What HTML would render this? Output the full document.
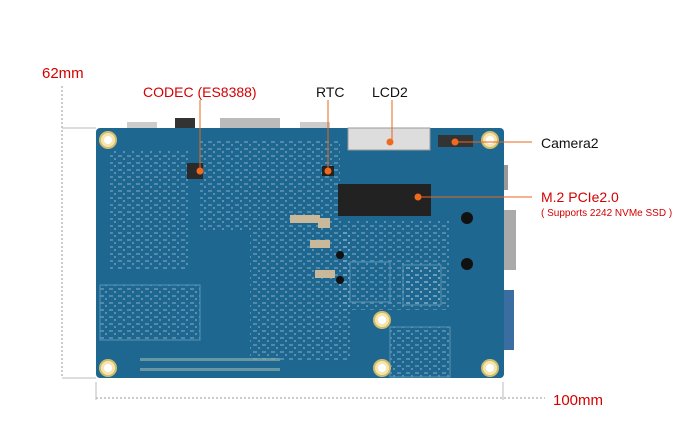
<!DOCTYPE html>
<html><head><style>
html,body{margin:0;padding:0;background:#fff;}
svg{display:block;font-family:"Liberation Sans",sans-serif;}
</style></head><body>
<svg width="692" height="448" viewBox="0 0 692 448" xmlns="http://www.w3.org/2000/svg">
<defs>
<pattern id="comp" width="9" height="7" patternUnits="userSpaceOnUse">
<rect x="1" y="1" width="4" height="2" fill="#7fa9c4" opacity="0.55"/>
<rect x="6" y="4" width="2" height="2" fill="#a0b8c8" opacity="0.5"/>
</pattern>
</defs>
<rect width="692" height="448" fill="#fff"/>
<line x1="62" y1="86" x2="62" y2="378" stroke="#999" stroke-dasharray="2,2"/>
<line x1="62" y1="128" x2="96" y2="128" stroke="#bbb"/>
<line x1="62" y1="378" x2="96" y2="378" stroke="#bbb"/>
<line x1="96" y1="398" x2="545" y2="398" stroke="#999" stroke-dasharray="2,2"/>
<line x1="96" y1="382" x2="96" y2="400" stroke="#bbb"/>
<line x1="503" y1="382" x2="503" y2="400" stroke="#bbb"/>
<text x="42" y="78" font-size="15" fill="#d40000">62mm</text>
<text x="553" y="405" font-size="15" fill="#d40000">100mm</text>
<rect x="127" y="122" width="30" height="8" fill="#ccc"/>
<rect x="175" y="118" width="20" height="12" fill="#333"/>
<rect x="220" y="118" width="60" height="10" fill="#bbb"/>
<rect x="300" y="122" width="30" height="8" fill="#ccc"/>
<rect x="500" y="165" width="8" height="25" fill="#999"/>
<rect x="502" y="210" width="14" height="60" fill="#aaa"/>
<rect x="502" y="290" width="12" height="60" fill="#3a6ea0"/>
<rect x="96" y="128" width="408" height="250" rx="4" fill="#1d6790"/>
<rect x="110" y="150" width="80" height="120" fill="url(#comp)"/>
<rect x="200" y="140" width="140" height="90" fill="url(#comp)"/>
<rect x="250" y="230" width="100" height="130" fill="url(#comp)"/>
<rect x="340" y="220" width="110" height="90" fill="url(#comp)"/>
<rect x="100" y="285" width="100" height="55" fill="url(#comp)" stroke="#5a93b5"/>
<rect x="403" y="265" width="38" height="40" fill="url(#comp)" stroke="#5a93b5"/>
<rect x="390" y="327" width="60" height="50" fill="url(#comp)" stroke="#5a93b5"/>
<rect x="350" y="262" width="40" height="40" fill="none" stroke="#5a93b5"/>
<g fill="#f3e6b0" stroke="#d4bb6a" stroke-width="2">
<circle cx="108" cy="140" r="8"/><circle cx="490" cy="140" r="8"/>
<circle cx="108" cy="368" r="8"/><circle cx="490" cy="368" r="8"/>
<circle cx="382" cy="320" r="8"/><circle cx="382" cy="368" r="8"/>
</g>
<g fill="#fff"><circle cx="108" cy="140" r="4"/><circle cx="490" cy="140" r="4"/>
<circle cx="108" cy="368" r="4"/><circle cx="490" cy="368" r="4"/>
<circle cx="382" cy="320" r="4"/><circle cx="382" cy="368" r="4"/></g>
<rect x="187" y="163" width="16" height="16" fill="#2a2a2a"/>
<rect x="322" y="166" width="12" height="10" fill="#222"/>
<rect x="338" y="184" width="93" height="32" fill="#222"/>
<rect x="348" y="128" width="82" height="22" fill="#ddd" stroke="#999"/>
<rect x="438" y="135" width="35" height="12" fill="#333"/>
<circle cx="467" cy="218" r="6" fill="#111"/><circle cx="467" cy="264" r="6" fill="#111"/>
<circle cx="340" cy="255" r="4" fill="#111"/><circle cx="340" cy="280" r="4" fill="#111"/>
<g fill="#c9b89a">
<rect x="290" y="215" width="30" height="8"/><rect x="318" y="218" width="12" height="10"/>
<rect x="310" y="240" width="20" height="8"/><rect x="315" y="270" width="20" height="8"/>
</g>
<g fill="#8aa" opacity="0.7">
<rect x="140" y="358" width="140" height="3"/><rect x="140" y="368" width="140" height="3"/>
</g>
<g stroke="#e8641b" stroke-width="1" fill="none">
<line x1="200" y1="100" x2="200" y2="171"/>
<line x1="328" y1="100" x2="328" y2="171"/>
<line x1="392" y1="100" x2="392" y2="142"/>
<line x1="455" y1="142" x2="532" y2="142"/>
<line x1="418" y1="197" x2="532" y2="197"/>
</g>
<g fill="#f06a1e">
<circle cx="200" cy="171" r="3.5"/><circle cx="328" cy="171" r="3.5"/>
<circle cx="390" cy="142" r="3.5"/><circle cx="455" cy="142" r="3.5"/>
<circle cx="418" cy="197" r="3.5"/>
</g>
<text x="143" y="97" font-size="14" fill="#d40000">CODEC (ES8388)</text>
<text x="316" y="97" font-size="14" fill="#111">RTC</text>
<text x="372" y="97" font-size="14" fill="#111">LCD2</text>
<text x="541" y="148" font-size="14" fill="#111">Camera2</text>
<text x="541" y="202" font-size="14" fill="#d40000">M.2 PCIe2.0</text>
<text x="541" y="216" font-size="10" fill="#d40000">( Supports 2242 NVMe SSD )</text>
</svg>
</body></html>
